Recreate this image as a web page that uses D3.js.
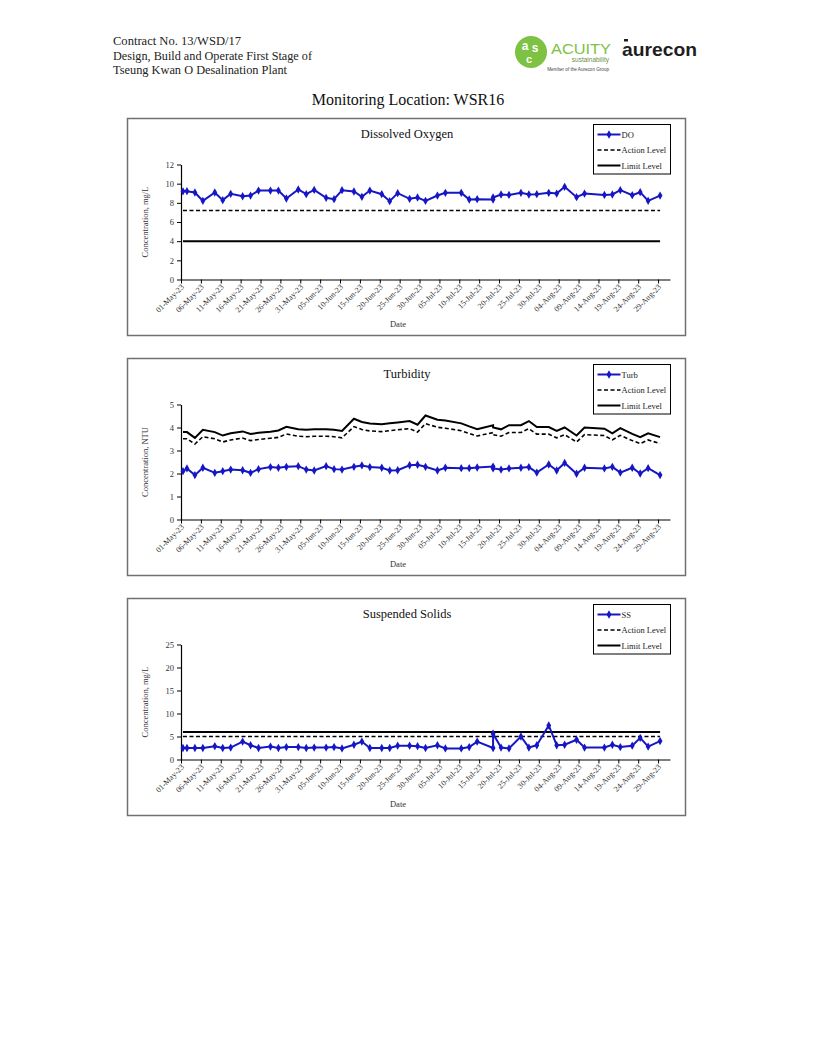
<!DOCTYPE html>
<html><head><meta charset="utf-8">
<script src="https://cdn.jsdelivr.net/npm/d3@7"></script>
<style>
body{margin:0;background:#fff}
svg{display:block}
</style>
</head><body>
<svg id="page" width="816" height="1056"></svg>
<script>
// ---------------- DATA ----------------
const sampleDates = ["2023-05-01","2023-05-02","2023-05-04","2023-05-06","2023-05-09","2023-05-11","2023-05-13","2023-05-16","2023-05-18","2023-05-20",
"2023-05-23","2023-05-25","2023-05-27","2023-05-30","2023-06-01","2023-06-03","2023-06-06","2023-06-08","2023-06-10","2023-06-13",
"2023-06-15","2023-06-17","2023-06-20","2023-06-22","2023-06-24","2023-06-27","2023-06-29","2023-07-01","2023-07-04","2023-07-06",
"2023-07-10","2023-07-12","2023-07-14","2023-07-18","2023-07-18","2023-07-20","2023-07-22","2023-07-25","2023-07-27","2023-07-29",
"2023-08-01","2023-08-03","2023-08-05","2023-08-08","2023-08-10","2023-08-15","2023-08-17","2023-08-19","2023-08-22","2023-08-24",
"2023-08-26","2023-08-29"];

const doValues = [9.20,9.22,9.08,8.21,9.08,8.28,8.94,8.69,8.76,9.28,
9.28,9.28,8.45,9.39,8.90,9.35,8.52,8.38,9.32,9.18,
8.63,9.28,8.90,8.17,9.01,8.42,8.56,8.21,8.76,9.04,
9.04,8.35,8.38,8.35,8.56,8.87,8.83,9.04,8.87,8.90,
9.04,8.97,9.67,8.59,8.97,8.83,8.87,9.32,8.80,9.11,
8.21,8.76];
const doActionLevel = 7.2;
const doLimitLevel = 4;

const turbValues = [2.10,2.22,1.93,2.25,2.03,2.10,2.17,2.14,2.03,2.19,
2.28,2.25,2.29,2.32,2.17,2.13,2.32,2.19,2.17,2.29,
2.35,2.28,2.25,2.13,2.14,2.36,2.38,2.29,2.13,2.25,
2.23,2.23,2.26,2.30,2.22,2.17,2.22,2.25,2.28,2.04,
2.39,2.13,2.46,1.99,2.25,2.22,2.29,2.04,2.25,2.00,
2.23,1.93];
const turbAction = [3.51,3.51,3.28,3.60,3.51,3.37,3.46,3.54,3.43,3.48,
3.53,3.57,3.72,3.62,3.60,3.62,3.62,3.60,3.55,4.04,
3.91,3.85,3.82,3.86,3.90,3.95,3.80,4.17,4.01,3.97,
3.86,3.74,3.63,3.78,3.69,3.62,3.78,3.78,3.95,3.71,
3.71,3.55,3.69,3.37,3.69,3.65,3.46,3.66,3.43,3.30,
3.46,3.30];
const turbLimit = [3.80,3.80,3.55,3.90,3.80,3.65,3.75,3.83,3.72,3.77,
3.82,3.87,4.03,3.92,3.90,3.92,3.92,3.90,3.85,4.38,
4.24,4.17,4.14,4.18,4.22,4.28,4.12,4.52,4.34,4.30,
4.18,4.05,3.93,4.10,4.00,3.92,4.10,4.10,4.28,4.02,
4.02,3.85,4.00,3.65,4.00,3.95,3.75,3.97,3.72,3.58,
3.75,3.58];

const ssValues = [2.5,2.5,2.5,2.5,2.9,2.5,2.6,3.9,3.1,2.5,
2.8,2.5,2.7,2.7,2.5,2.6,2.6,2.7,2.4,3.2,
3.9,2.5,2.5,2.5,3.0,3.0,2.9,2.5,3.1,2.4,
2.4,2.7,3.9,2.5,5.6,2.6,2.4,5.0,2.6,3.1,
7.4,3.1,3.2,4.3,2.6,2.6,3.2,2.7,3.0,4.7,
2.8,4.0];
const ssActionLevel = 5;
const ssLimitLevel = 6;

const xTickDates = ["2023-05-01","2023-05-06","2023-05-11","2023-05-16","2023-05-21","2023-05-26","2023-05-31",
"2023-06-05","2023-06-10","2023-06-15","2023-06-20","2023-06-25","2023-06-30","2023-07-05","2023-07-10",
"2023-07-15","2023-07-20","2023-07-25","2023-07-30","2023-08-04","2023-08-09","2023-08-14","2023-08-19",
"2023-08-24","2023-08-29"];
const xDomain = ["2023-05-01","2023-09-01"];

const doTicks = [0,2,4,6,8,10,12];
const turbTicks = [0,1,2,3,4,5];
const ssTicks = [0,5,10,15,20,25];

const headerLines = ["Contract No. 13/WSD/17","Design, Build and Operate First Stage of","Tseung Kwan O Desalination Plant"];
const pageTitle = "Monitoring Location: WSR16";

// ---------------- DRAW ----------------
const SERIF = "'Liberation Serif','Times New Roman',serif";
const SANS = "'Liberation Sans',Arial,sans-serif";
const svg = d3.select("#page");
const parse = d3.utcParse("%Y-%m-%d");
const fmt = d3.utcFormat("%d-%b-%y");
const dates = sampleDates.map(parse);
const BLUE = "#1616c4";

// header
const hdrWidths = [128, 199, 174];
headerLines.forEach((t,i)=>{
  svg.append("text").attr("x",113).attr("y",45+i*14.5)
    .attr("font-family",SERIF)
    .attr("font-size",11.5).attr("fill","#222")
    .attr("textLength",hdrWidths[i]).attr("lengthAdjust","spacingAndGlyphs")
    .text(t);
});

// logos
const lg = svg.append("g");
lg.append("circle").attr("cx",531).attr("cy",52).attr("r",16).attr("fill","#7dc242");
lg.append("text").attr("x",525).attr("y",50).attr("text-anchor","middle")
  .attr("font-family",SANS).attr("font-weight","bold")
  .attr("font-size",12).attr("fill","#fff").text("a");
lg.append("text").attr("x",535).attr("y",52).attr("text-anchor","middle")
  .attr("font-family",SANS).attr("font-weight","bold")
  .attr("font-size",12).attr("fill","#fff").text("s");
lg.append("text").attr("x",529).attr("y",63).attr("text-anchor","middle")
  .attr("font-family",SANS).attr("font-weight","bold")
  .attr("font-size",11).attr("fill","#fff").text("c");
lg.append("text").attr("x",551).attr("y",54).attr("font-family",SANS)
  .attr("font-size",15).attr("fill","#7dc242").attr("textLength",60).attr("lengthAdjust","spacingAndGlyphs").text("ACUITY");
lg.append("text").attr("x",609).attr("y",62).attr("text-anchor","end").attr("font-family",SANS)
  .attr("font-size",6.5).attr("fill","#6a8f4a").text("sustainability");
lg.append("text").attr("x",609).attr("y",71).attr("text-anchor","end").attr("font-family",SANS)
  .attr("font-size",4.6).attr("fill","#444").text("Member of the Aurecon Group");
lg.append("text").attr("x",622).attr("y",56).attr("font-family",SANS).attr("font-weight","bold")
  .attr("font-size",19).attr("fill","#1e1e1e").attr("textLength",75).attr("lengthAdjust","spacingAndGlyphs").text("aurecon");
lg.append("rect").attr("x",624).attr("y",39).attr("width",4).attr("height",2.5).attr("fill","#1e1e1e");

// page title
svg.append("text").attr("x",408).attr("y",105).attr("text-anchor","middle").attr("font-family",SERIF)
  .attr("font-size",16).attr("fill","#111").text(pageTitle);

function drawChart(cfg){
  const top = cfg.top;
  const g = svg.append("g");
  g.append("rect").attr("x",127.5).attr("y",top+0.5).attr("width",558).attr("height",217)
    .attr("fill","#fff").attr("stroke","#707070").attr("stroke-width",1.5);

  const x = d3.scaleUtc().domain(xDomain.map(parse)).range([181,670]);
  const y = d3.scaleLinear().domain([0, d3.max(cfg.yTicks)]).range([top+161.5, top+46.5]);
  const xp = d => x(d3.utcHour.offset(d,12));

  // title
  g.append("text").attr("x",407).attr("y",top+20).attr("text-anchor","middle").attr("font-family",SERIF)
    .attr("font-size",12.5).attr("fill","#111").text(cfg.title);

  // axes
  const yAxis = g.append("g").attr("transform","translate(181,0)")
    .call(d3.axisLeft(y).tickValues(cfg.yTicks).tickFormat(d=>String(d)).tickSize(4).tickSizeOuter(0).tickPadding(3));
  yAxis.select(".domain").attr("stroke","#000").attr("stroke-width",1.2);
  yAxis.selectAll(".tick line").attr("stroke","#000");
  yAxis.selectAll(".tick text").attr("font-family",SERIF).attr("font-size",8.5).attr("fill","#333");

  const xAxis = g.append("g").attr("transform",`translate(0,${top+161.5})`)
    .call(d3.axisBottom(x).tickValues(xTickDates.map(parse)).tickFormat(fmt).tickSize(4).tickSizeOuter(0));
  xAxis.select(".domain").attr("stroke","#000").attr("stroke-width",1.2);
  xAxis.selectAll(".tick line").attr("stroke","#000");
  xAxis.selectAll(".tick text")
    .attr("font-family",SERIF).attr("font-size",8).attr("fill","#333")
    .attr("text-anchor","end").attr("dy",null).attr("y",null)
    .attr("transform","translate(3,8) rotate(-45)");

  g.append("text").attr("transform",`translate(148,${top+104}) rotate(-90)`).attr("text-anchor","middle")
    .attr("font-family",SERIF).attr("font-size",8.5).attr("fill","#333").text("Concentration, "+cfg.unit);
  g.append("text").attr("x",398).attr("y",top+209).attr("text-anchor","middle")
    .attr("font-family",SERIF).attr("font-size",8.5).attr("fill","#333").text("Date");

  // levels
  const lineGen = d3.line().x((d,i)=>xp(dates[i])).y(d=>y(d));
  const levelArr = v => Array.isArray(v) ? v : dates.map(()=>v);
  g.append("path").attr("d",lineGen(levelArr(cfg.limit))).attr("fill","none")
    .attr("stroke","#000").attr("stroke-width",2);
  g.append("path").attr("d",lineGen(levelArr(cfg.action))).attr("fill","none")
    .attr("stroke","#000").attr("stroke-width",1.6).attr("stroke-dasharray","4,2.5");

  // series
  g.append("path").attr("d",lineGen(cfg.values)).attr("fill","none")
    .attr("stroke",BLUE).attr("stroke-width",2);
  const sym = d3.symbol().type(d3.symbolDiamond).size(20);
  g.selectAll("path.mk").data(cfg.values).enter().append("path").attr("class","mk")
    .attr("d",sym).attr("fill",BLUE)
    .attr("transform",(d,i)=>`translate(${xp(dates[i])},${y(d)})`);

  // legend
  const lgX = 593.5, lgY = top+6.5;
  g.append("rect").attr("x",lgX).attr("y",lgY).attr("width",77).attr("height",49.5)
    .attr("fill","#fff").attr("stroke","#000").attr("stroke-width",1);
  const rows = [
    {name:cfg.seriesName, color:BLUE, w:2, dash:null, marker:true},
    {name:"Action Level", color:"#000", w:1.6, dash:"4,2.5", marker:false},
    {name:"Limit Level", color:"#000", w:2, dash:null, marker:false}
  ];
  rows.forEach((r,i)=>{
    const cy = lgY + 10 + i*15.5;
    g.append("line").attr("x1",lgX+4).attr("x2",lgX+27).attr("y1",cy).attr("y2",cy)
      .attr("stroke",r.color).attr("stroke-width",r.w).attr("stroke-dasharray",r.dash);
    if(r.marker) g.append("path").attr("d",sym).attr("fill",BLUE).attr("transform",`translate(${lgX+15.5},${cy})`);
    g.append("text").attr("x",lgX+28).attr("y",cy+3).attr("font-family",SERIF).attr("font-size",8.5).attr("fill","#222").text(r.name);
  });
}

drawChart({top:118, title:"Dissolved Oxygen", seriesName:"DO", values:doValues, action:doActionLevel, limit:doLimitLevel, yTicks:doTicks, unit:"mg/L"});
drawChart({top:358, title:"Turbidity", seriesName:"Turb", values:turbValues, action:turbAction, limit:turbLimit, yTicks:turbTicks, unit:"NTU"});
drawChart({top:598, title:"Suspended Solids", seriesName:"SS", values:ssValues, action:ssActionLevel, limit:ssLimitLevel, yTicks:ssTicks, unit:"mg/L"});
</script>
</body></html>
